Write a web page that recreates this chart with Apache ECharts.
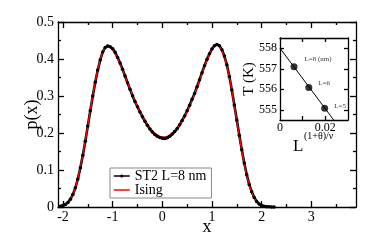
<!DOCTYPE html>
<html><head><meta charset="utf-8">
<script src="https://cdn.jsdelivr.net/npm/echarts@6/dist/echarts.min.js"></script>
<style>html,body{margin:0;padding:0;background:#fff}#c{width:374px;height:242px}</style>
</head><body><div id="c"></div>
<script>
// ---- data ----
const xVals = [-2.05,-2.0,-1.95,-1.9,-1.85,-1.8,-1.75,-1.7,-1.65,-1.6,-1.55,-1.5,-1.45,-1.4,-1.35,-1.3,-1.25,-1.2,-1.15,-1.1,-1.05,-1.0,-0.95,-0.9,-0.85,-0.8,-0.75,-0.7,-0.65,-0.6,-0.55,-0.5,-0.45,-0.4,-0.35,-0.3,-0.25,-0.2,-0.15,-0.1,-0.05,0,
  0.05,0.1,0.15,0.2,0.25,0.3,0.35,0.4,0.45,0.5,0.55,0.6,0.65,0.7,0.75,0.8,0.85,0.9,0.95,1.0,1.05,1.1,1.15,1.2,1.25,1.3,1.35,1.4,1.45,1.5,1.55,1.6,1.65,1.7,1.75,1.8,1.85,1.9,1.95,2.0,2.05,2.1,2.15,2.2,2.25];
const isingY = [0.001,0.003,0.006,0.011,0.02,0.033,0.052,0.077,0.107,0.141,0.179,0.221,0.262,0.302,0.339,0.371,0.398,0.419,0.432,0.437,0.434,0.425,0.414,0.401,0.386,0.370,0.353,0.336,0.319,0.302,0.287,0.272,0.258,0.245,0.233,0.222,0.213,0.205,0.199,0.194,0.191,0.189,
  0.189,0.191,0.194,0.199,0.205,0.213,0.222,0.233,0.245,0.258,0.272,0.288,0.305,0.323,0.342,0.361,0.380,0.397,0.413,0.426,0.435,0.438,0.434,0.423,0.406,0.383,0.352,0.315,0.275,0.233,0.192,0.153,0.117,0.085,0.059,0.039,0.024,0.014,0.007,0.003,0.0015,0.0006,0.0002,0.0001,0];
const st2Y = [0.002,0.004,0.007,0.012,0.021,0.034,0.052,0.076,0.106,0.14,0.178,0.219,0.26,0.30,0.337,0.37,0.397,0.419,0.431,0.435,0.433,0.428,0.418,0.404,0.389,0.372,0.354,0.336,0.318,0.301,0.285,0.271,0.257,0.244,0.232,0.221,0.211,0.203,0.196,0.191,0.188,0.186,
  0.185,0.187,0.191,0.197,0.204,0.212,0.222,0.234,0.246,0.26,0.275,0.291,0.307,0.325,0.344,0.363,0.382,0.399,0.414,0.427,0.436,0.439,0.436,0.425,0.408,0.384,0.353,0.316,0.276,0.235,0.194,0.155,0.119,0.087,0.061,0.041,0.026,0.015,0.008,0.004,0.002,0.001,0.0005,0.0002,0];
const mainXTicks = [-2,-1,0,1,2,3];
const mainXMinor = [-1.5,-0.5,0.5,1.5,2.5,3.5];
// inset
const insetX = [0.0062,0.0127,0.0197];
const insetT = [557.1,556.08,555.07];
const insetLabels = ['L=8 (nm)','L=6','L=5'];
const fitX = [0,0.0237];
const fitT = [558.0,554.5];
const insetYTicks = [555,556,557,558];
const insetXTicks = [0.01,0.02];
const insetXLabels = [0,0.02];

// ---- chart ----
const F = 'Liberation Serif, Times New Roman, serif';
const lineStyle = {color:'#000', width:1.3};
function xAx(o){return Object.assign({type:'value', splitLine:{show:false},
  axisLine:{show:true,onZero:false,lineStyle:lineStyle}}, o);}
const chart = echarts.init(document.getElementById('c'), null, {renderer:'canvas'});
chart.setOption({
  animation:false,
  backgroundColor:'#fff',
  grid:[
    {left:58, top:22, width:298, height:185, containLabel:false},
    {left:280, top:38, width:68, height:82, show:true, backgroundColor:'#fff', borderWidth:0, z:5}
  ],
  legend:{
    data:[{name:'ST2 L=8 nm'},
          {name:'Ising', itemStyle:{color:'rgba(0,0,0,0)', borderColor:'rgba(0,0,0,0)', borderWidth:0}}],
    orient:'vertical', left:110, top:168,
    padding:[1,5,1,3], itemGap:0, itemWidth:16, itemHeight:4,
    lineStyle:{width:1.5},
    borderColor:'#888', borderWidth:1, backgroundColor:'#fff',
    textStyle:{fontFamily:F, fontSize:14, color:'#000', lineHeight:14}
  },
  xAxis:[
    xAx({gridIndex:0, position:'bottom', min:-2.1, max:3.9,
      axisTick:{inside:true, length:6, customValues:mainXTicks, lineStyle:lineStyle},
      axisLabel:{customValues:mainXTicks, fontFamily:F, fontSize:14, color:'#000', margin:3},
      name:'x', nameLocation:'middle', nameGap:11, nameMoveOverlap:false, nameTextStyle:{fontFamily:F, fontSize:18, color:'#000'}}),
    xAx({gridIndex:1, position:'bottom', min:0, max:0.03, z:6,
      axisTick:{inside:true, length:4, customValues:insetXTicks, lineStyle:lineStyle},
      axisLabel:{customValues:insetXLabels, fontFamily:F, fontSize:12, color:'#000', margin:2}}),
    xAx({gridIndex:0, position:'bottom', min:-2.1, max:3.9, axisLine:{show:false,onZero:false},
      axisTick:{inside:true, length:3, customValues:mainXMinor, lineStyle:lineStyle}, axisLabel:{show:false}}),
    xAx({gridIndex:0, position:'top', min:-2.1, max:3.9,
      axisTick:{inside:true, length:6, customValues:mainXTicks, lineStyle:lineStyle}, axisLabel:{show:false}}),
    xAx({gridIndex:0, position:'top', min:-2.1, max:3.9, axisLine:{show:false,onZero:false},
      axisTick:{inside:true, length:3, customValues:mainXMinor, lineStyle:lineStyle}, axisLabel:{show:false}}),
    xAx({gridIndex:1, position:'top', min:0, max:0.03, z:6,
      axisTick:{inside:true, length:4, customValues:insetXTicks, lineStyle:lineStyle}, axisLabel:{show:false}})
  ],
  yAxis:[
    xAx({gridIndex:0, position:'left', min:0, max:0.5, interval:0.1,
      axisTick:{inside:true, length:6, lineStyle:lineStyle},
      minorTick:{show:true, splitNumber:2, length:3, lineStyle:lineStyle},
      axisLabel:{fontFamily:F, fontSize:14, color:'#000', margin:4},
      name:'p(x)', nameLocation:'middle', nameGap:17, nameMoveOverlap:false, nameTextStyle:{fontFamily:F, fontSize:18, color:'#000'}}),
    xAx({gridIndex:1, position:'left', min:554.5, max:558.5, z:6,
      axisTick:{inside:true, length:4, customValues:insetYTicks, lineStyle:lineStyle},
      axisLabel:{customValues:insetYTicks, fontFamily:F, fontSize:12, color:'#000', margin:3},
      name:'T (K)', nameLocation:'middle', nameGap:23, nameMoveOverlap:false, nameTextStyle:{fontFamily:F, fontSize:15, color:'#000'}}),
    xAx({gridIndex:0, position:'right', min:0, max:0.5, interval:0.1,
      axisTick:{inside:true, length:6, lineStyle:lineStyle},
      minorTick:{show:true, splitNumber:2, length:3, lineStyle:lineStyle},
      axisLabel:{show:false}}),
    xAx({gridIndex:1, position:'right', min:554.5, max:558.5, z:6,
      axisTick:{inside:true, length:4, customValues:insetYTicks, lineStyle:lineStyle},
      axisLabel:{show:false}})
  ],
  graphic:[
    {type:'text', left:293, top:138, z:10, style:{text:'L', font:'17px '+F, fill:'#000'}},
    {type:'text', left:304, top:131, z:10, style:{text:'(1+θ)/ν', font:'10px '+F, fill:'#000'}}
  ],
  series:[
    {name:'ST2 L=8 nm', type:'line', xAxisIndex:0, yAxisIndex:0,
     data:xVals.map((x,i)=>[x,st2Y[i]]), symbol:'circle', symbolSize:3.5, showSymbol:true,
     itemStyle:{color:'#000'}, lineStyle:{color:'#000', width:2.6}},
    {name:'Ising', type:'line', xAxisIndex:0, yAxisIndex:0,
     data:xVals.map((x,i)=>[x,isingY[i]]), symbol:'none',
     itemStyle:{color:'#ff0000'}, lineStyle:{color:'#ff0000', width:1.4}},
    {name:'fit', type:'line', xAxisIndex:1, yAxisIndex:1, z:7, clip:true,
     data:fitX.map((x,i)=>[x,fitT[i]]), symbol:'none', lineStyle:{color:'#000', width:1}},
    {name:'sizes', type:'scatter', xAxisIndex:1, yAxisIndex:1, z:8,
     data:insetX.map((x,i)=>({value:[x,insetT[i]], label:{offset:[[2,-8],[1,-4],[1,-2]][i]}})),
     symbol:'circle', symbolSize:7, itemStyle:{color:'#000'},
     label:{show:true, position:'right', formatter:p=>insetLabels[p.dataIndex], fontFamily:F, fontSize:7, color:'#000'}}
  ]
});
</script></body></html>
